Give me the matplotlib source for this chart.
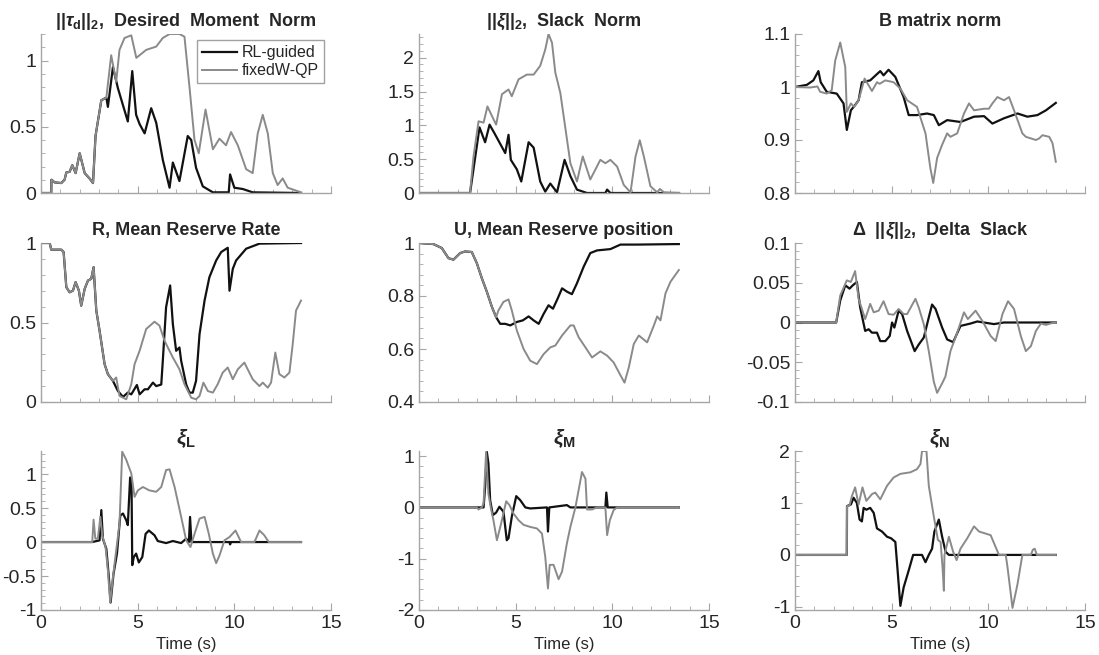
import numpy as np
import matplotlib
matplotlib.use("Agg")
import matplotlib.pyplot as plt
from matplotlib.ticker import AutoMinorLocator, FormatStrFormatter

# ---- data (time s, value) ----
TAU_RL = [(0, 0), (0.53, 0), (0.54, 0.1), (0.71, 0.08), (1.05, 0.075), (1.22, 0.1), (1.31, 0.155),
          (1.48, 0.16), (1.62, 0.21), (1.79, 0.15), (2.0, 0.3), (2.26, 0.15), (2.51, 0.11), (2.69, 0.075),
          (2.82, 0.43), (3.12, 0.7), (3.38, 0.72), (3.46, 0.65), (3.72, 0.95), (3.98, 0.79), (4.49, 0.54),
          (4.72, 0.92), (4.92, 0.59), (5.1, 0.52), (5.36, 0.45), (5.7, 0.64), (5.96, 0.53), (6.3, 0.25),
          (6.65, 0.04), (6.82, 0.23), (7.16, 0.09), (7.59, 0.43), (7.77, 0.4), (8.02, 0.19), (8.37, 0.05),
          (8.89, 0.005), (9.71, 0.005), (9.78, 0.14), (10.0, 0.04), (10.44, 0.03), (10.95, 0.005), (13.45, 0)]
TAU_QP = [(0, 0), (0.53, 0), (0.54, 0.1), (0.71, 0.08), (1.05, 0.075), (1.22, 0.1), (1.31, 0.155),
          (1.48, 0.16), (1.62, 0.21), (1.79, 0.15), (2.0, 0.3), (2.26, 0.15), (2.51, 0.11), (2.69, 0.075),
          (2.82, 0.43), (3.12, 0.7), (3.38, 0.72), (3.63, 1.04), (3.89, 0.84), (4.06, 1.08), (4.32, 1.17),
          (4.67, 1.19), (4.93, 1.02), (5.44, 1.08), (5.96, 1.105), (6.3, 1.17), (6.65, 1.2), (7.16, 1.2),
          (7.42, 1.18), (7.68, 0.8), (7.94, 0.4), (8.16, 0.3), (8.51, 0.63), (8.89, 0.33), (9.23, 0.41),
          (9.57, 0.36), (9.83, 0.46), (10.18, 0.36), (10.61, 0.18), (10.95, 0.15), (11.21, 0.45),
          (11.47, 0.59), (11.73, 0.45), (11.99, 0.15), (12.24, 0.06), (12.5, 0.11), (12.76, 0.04), (13.45, 0.005)]

SLACK_RL = [(0, 0), (2.64, 0), (3.13, 0.97), (3.42, 0.75), (3.65, 1.01), (3.89, 0.89), (4.46, 0.59),
            (4.63, 0.86), (4.75, 0.49), (5.06, 0.35), (5.29, 0.17), (5.67, 0.75), (5.93, 0.67), (6.27, 0.17),
            (6.53, 0.02), (6.79, 0.14), (7.14, 0.01), (7.53, 0.49), (7.83, 0.25), (8.17, 0.05), (8.69, 0),
            (9.64, 0), (9.73, 0.05), (9.9, 0), (13.45, 0)]
SLACK_QP = [(0, 0), (2.64, 0), (2.82, 0.54), (3.08, 1.06), (3.34, 1.04), (3.54, 1.28), (3.77, 1.14),
            (3.99, 1.01), (4.29, 1.46), (4.63, 1.53), (4.8, 1.43), (5.15, 1.68), (5.58, 1.75), (5.93, 1.75),
            (6.27, 1.88), (6.53, 2.12), (6.7, 2.35), (6.88, 2.22), (7.05, 1.78), (7.31, 1.48), (7.48, 1.14),
            (7.83, 0.44), (8.17, 0.17), (8.47, 0.54), (8.86, 0.2), (9.38, 0.49), (9.64, 0.44), (9.9, 0.49),
            (10.25, 0.39), (10.59, 0.12), (10.94, 0.01), (11.2, 0.54), (11.42, 0.78), (11.63, 0.54),
            (11.97, 0.1), (12.32, 0.01), (12.46, 0.06), (12.67, 0.01), (13.45, 0)]

BNORM_RL = [(0, 1.0), (0.61, 1.004), (0.95, 1.0125), (1.21, 1.03), (1.33, 1.009), (1.64, 0.991),
            (2.16, 0.9875), (2.51, 0.969), (2.68, 0.919), (2.89, 0.956), (3.11, 0.966), (3.29, 0.975),
            (3.46, 1.009), (3.89, 1.0125), (4.41, 1.03), (4.58, 1.022), (4.84, 1.0325), (5.19, 1.019),
            (5.62, 0.981), (5.88, 0.947), (6.31, 0.947), (6.83, 0.95), (7.18, 0.947), (7.44, 0.928),
            (7.87, 0.9375), (8.56, 0.934), (9.26, 0.944), (9.78, 0.945), (10.21, 0.931), (10.81, 0.941),
            (11.51, 0.95), (12.02, 0.944), (12.54, 0.947), (12.98, 0.956), (13.49, 0.97)]
BNORM_QP = [(0, 1.0), (0.78, 0.999), (1.16, 1.001), (1.3, 0.991), (1.64, 0.9875), (1.9, 0.994),
            (2.08, 1.05), (2.34, 1.084), (2.6, 1.0375), (2.68, 0.953), (2.89, 0.969), (3.06, 0.9625),
            (3.29, 0.975), (3.6, 1.016), (3.98, 0.9925), (4.24, 1.009), (4.38, 1.006), (4.67, 1.0125),
            (5.1, 1.009), (5.45, 0.997), (5.8, 0.975), (6.31, 0.9625), (6.75, 0.9125), (7.0, 0.847),
            (7.15, 0.819), (7.35, 0.866), (7.61, 0.891), (7.87, 0.9125), (8.04, 0.906), (8.39, 0.9125),
            (8.74, 0.95), (9.0, 0.969), (9.26, 0.956), (9.78, 0.959), (10.03, 0.959), (10.21, 0.969),
            (10.47, 0.981), (10.81, 0.975), (11.07, 0.981), (11.33, 0.956), (11.76, 0.9125), (11.94, 0.906),
            (12.46, 0.9), (12.63, 0.903), (12.8, 0.909), (13.15, 0.906), (13.32, 0.894), (13.49, 0.859)]

R_RL = [(0, 1.0), (0.45, 1.0), (0.53, 0.958), (1.05, 0.958), (1.17, 0.943), (1.31, 0.722), (1.48, 0.69),
        (1.65, 0.7), (1.79, 0.754), (1.96, 0.7), (2.08, 0.606), (2.26, 0.712), (2.43, 0.764), (2.6, 0.775),
        (2.72, 0.848), (2.86, 0.575), (3.03, 0.448), (3.29, 0.238), (3.46, 0.175), (3.72, 0.133),
        (3.98, 0.069), (4.24, 0.032), (4.49, 0.059), (4.67, 0.048), (4.96, 0.107), (5.1, 0.048),
        (5.36, 0.08), (5.53, 0.08), (5.79, 0.122), (5.96, 0.1), (6.22, 0.11), (6.3, 0.259), (6.47, 0.596),
        (6.68, 0.733), (6.82, 0.49), (6.99, 0.322), (7.16, 0.343), (7.25, 0.259), (7.51, 0.11),
        (7.68, 0.059), (7.85, 0.059), (8.02, 0.133), (8.2, 0.427), (8.46, 0.638), (8.71, 0.785),
        (9.06, 0.89), (9.32, 0.943), (9.66, 0.97), (9.75, 0.7), (9.92, 0.837), (10.09, 0.89),
        (10.61, 0.964), (11.3, 0.996), (13.45, 1.0)]
R_QP = [(0, 1.0), (0.45, 1.0), (0.53, 0.958), (1.05, 0.958), (1.17, 0.943), (1.31, 0.722), (1.48, 0.69),
        (1.65, 0.7), (1.79, 0.754), (1.96, 0.7), (2.08, 0.606), (2.26, 0.712), (2.43, 0.764), (2.6, 0.775),
        (2.72, 0.848), (2.86, 0.575), (3.03, 0.448), (3.29, 0.238), (3.46, 0.175), (3.72, 0.133),
        (3.89, 0.154), (4.06, 0.038), (4.41, 0.017), (4.67, 0.112), (4.84, 0.238), (5.1, 0.322),
        (5.44, 0.459), (5.87, 0.505), (6.13, 0.48), (6.39, 0.385), (6.56, 0.343), (6.82, 0.28),
        (7.16, 0.206), (7.42, 0.112), (7.77, 0.027), (8.02, 0.017), (8.2, 0.038), (8.4, 0.122),
        (8.63, 0.069), (8.89, 0.059), (9.14, 0.112), (9.4, 0.185), (9.66, 0.217), (9.92, 0.143),
        (10.18, 0.206), (10.52, 0.248), (10.69, 0.206), (10.95, 0.143), (11.3, 0.1), (11.47, 0.122),
        (11.73, 0.09), (11.9, 0.122), (12.12, 0.311), (12.33, 0.175), (12.59, 0.154), (12.85, 0.185),
        (13.02, 0.364), (13.19, 0.575), (13.45, 0.638)]

U_SHARED = [(0, 1.0), (0.74, 0.996), (1.18, 0.981), (1.52, 0.943), (1.78, 0.937), (2.13, 0.962),
            (2.38, 0.968), (2.73, 0.966), (2.99, 0.924), (3.25, 0.867), (3.51, 0.816), (3.77, 0.759),
            (3.99, 0.72)]
U_RL = U_SHARED + [(4.2, 0.695), (4.46, 0.695), (4.72, 0.689), (5.06, 0.702), (5.37, 0.708),
                   (5.67, 0.723), (5.93, 0.708), (6.19, 0.695), (6.45, 0.733), (6.7, 0.765), (6.93, 0.752),
                   (7.17, 0.79), (7.4, 0.829), (7.66, 0.816), (7.91, 0.807), (8.17, 0.848), (8.52, 0.911),
                   (8.86, 0.962), (9.21, 0.972), (9.9, 0.977), (10.42, 0.994), (11.28, 0.994), (13.44, 0.996)]
U_QP = U_SHARED + [(4.11, 0.746), (4.37, 0.778), (4.63, 0.787), (4.8, 0.746), (5.06, 0.67), (5.41, 0.6),
                   (5.75, 0.556), (6.1, 0.543), (6.45, 0.581), (6.79, 0.606), (7.05, 0.613), (7.4, 0.651),
                   (7.83, 0.689), (8.0, 0.689), (8.26, 0.644), (8.61, 0.606), (8.95, 0.568), (9.38, 0.591),
                   (9.73, 0.575), (10.07, 0.549), (10.39, 0.505), (10.63, 0.473), (10.85, 0.53),
                   (11.11, 0.619), (11.37, 0.651), (11.8, 0.625), (12.15, 0.689), (12.32, 0.723),
                   (12.49, 0.708), (12.75, 0.81), (13.01, 0.854), (13.44, 0.898)]

DSLACK_RL = [(0, 0), (2.13, 0), (2.34, 0.0277), (2.6, 0.0468), (2.82, 0.0426), (2.99, 0.0468),
             (3.2, 0.051), (3.37, 0.019), (3.63, -0.0106), (3.81, -0.0085), (3.98, -0.0128),
             (4.24, -0.0128), (4.41, -0.0234), (4.67, -0.0234), (4.9, -0.017), (5.02, 0), (5.14, -0.0064),
             (5.36, 0.0149), (5.54, 0.0106), (5.8, -0.0106), (6.19, -0.036), (6.4, -0.0277), (6.66, -0.019),
             (6.92, 0.0064), (7.09, 0.0226), (7.27, 0.017), (7.61, -0.0064), (7.87, -0.0213),
             (8.18, -0.0247), (8.56, -0.0043), (9.08, -0.0013), (9.43, 0.0013), (10.29, -0.002),
             (10.81, 0), (13.49, 0)]
DSLACK_QP = [(0, 0), (2.13, 0), (2.34, 0.034), (2.68, 0.053), (2.89, 0.051), (3.11, 0.0647),
             (3.29, 0.0298), (3.63, 0.0043), (3.89, 0.0234), (4.07, 0.0128), (4.33, 0.0149),
             (4.58, 0.0268), (4.84, 0.0106), (5.1, 0.0098), (5.36, 0.017), (5.62, 0.0106), (5.8, 0.0106),
             (6.23, 0.0298), (6.4, 0.019), (6.66, -0.002), (6.92, -0.036), (7.18, -0.0745), (7.35, -0.0885),
             (7.61, -0.0766), (7.78, -0.068), (8.04, -0.036), (8.39, -0.0128), (8.74, 0.0128),
             (8.94, 0.0043), (9.34, 0.0149), (9.69, 0.002), (10.12, -0.017), (10.38, -0.0234),
             (10.73, 0.0106), (11.02, 0.0268), (11.33, 0.017), (11.68, -0.017), (11.94, -0.036),
             (12.2, -0.0298), (12.46, -0.0106), (12.72, -0.0013), (12.98, -0.003), (13.24, -0.001),
             (13.49, 0)]

XIL_RL = [(0, 0), (2.65, 0), (3.03, 0.025), (3.12, 0.47), (3.2, 0.05), (3.38, -0.1), (3.51, -0.52),
          (3.6, -0.89), (3.75, -0.47), (3.93, -0.17), (4.1, 0.39), (4.24, 0.42), (4.41, 0.32), (4.49, 0.25),
          (4.61, 0.95), (4.68, 0.94), (4.72, -0.34), (4.8, -0.22), (4.92, -0.17), (5.06, -0.3),
          (5.24, -0.22), (5.41, 0.12), (5.58, 0.17), (5.87, 0.1), (6.04, 0.015), (6.47, -0.015),
          (6.82, 0.015), (7.25, -0.015), (7.51, 0.05), (7.65, 0), (7.71, 0.37), (7.78, 0), (9.75, 0),
          (9.78, -0.035), (9.83, 0), (13.45, 0)]
XIL_QP = [(0, 0), (2.65, 0), (2.72, 0.33), (2.81, 0.05), (2.94, 0.05), (3.07, 0.37), (3.17, 0.1),
          (3.34, -0.074), (3.46, -0.42), (3.58, -0.89), (3.72, -0.52), (3.89, -0.12), (4.06, 0.27),
          (4.2, 1.33), (4.41, 1.21), (4.67, 1.01), (4.84, 0.665), (5.01, 0.76), (5.27, 0.81), (5.61, 0.76),
          (5.96, 0.74), (6.22, 0.81), (6.47, 1.06), (6.65, 1.07), (6.91, 0.81), (7.25, 0.37), (7.51, 0.025),
          (7.73, -0.074), (7.94, 0.12), (8.2, 0.345), (8.46, 0.37), (8.68, 0.12), (8.89, -0.17),
          (9.06, -0.31), (9.23, -0.2), (9.49, 0.025), (9.75, 0.074), (10.06, 0.17), (10.35, 0),
          (11.04, 0), (11.3, 0.17), (11.55, 0.1), (11.78, 0), (13.45, 0)]

XIM_RL = [(0, 0), (3.34, 0), (3.42, 0.4), (3.51, 1.08), (3.59, 0.86), (3.68, 0.14), (3.82, -0.15),
          (3.99, -0.1), (4.16, 0.013), (4.37, -0.085), (4.54, -0.64), (4.63, -0.6), (4.8, -0.18),
          (5.03, 0.22), (5.24, 0.14), (5.5, 0), (5.75, -0.02), (6.62, 0), (6.67, -0.47), (6.74, 0),
          (7.65, 0.045), (7.83, 0), (9.64, 0), (9.69, 0.29), (9.76, 0), (13.44, 0)]
XIM_QP = [(0, 0), (2.99, 0), (3.08, -0.04), (3.25, 0), (3.34, 0.08), (3.47, 1.08), (3.59, 0.27),
          (3.72, -0.02), (3.85, -0.25), (4.03, -0.64), (4.25, -0.31), (4.51, 0.12), (4.68, 0.045),
          (4.89, -0.12), (5.15, -0.25), (5.41, -0.34), (5.75, -0.38), (6.1, -0.41), (6.36, -0.51),
          (6.53, -0.96), (6.67, -1.58), (6.76, -1.12), (6.96, -1.12), (7.22, -1.4), (7.4, -1.25),
          (7.65, -0.7), (7.83, -0.38), (8.09, 0), (8.43, 0.69), (8.61, 0.56), (8.69, -0.04), (8.95, -0.04),
          (9.21, 0), (9.64, 0), (9.73, -0.54), (9.87, -0.25), (10.07, -0.05), (10.25, 0), (13.44, 0)]

XIN_RL = [(0, 0), (2.68, 0), (2.69, 0.94), (2.89, 0.97), (3.03, 1.1), (3.2, 1.0), (3.34, 0.68),
          (3.46, 0.645), (3.55, 0.905), (3.69, 0.87), (3.89, 0.905), (4.07, 0.81), (4.24, 0.51),
          (4.5, 0.45), (4.76, 0.35), (4.97, 0.32), (5.19, 0.25), (5.28, -0.17), (5.45, -0.98),
          (5.62, -0.625), (5.88, -0.3), (6.11, 0), (6.57, 0), (6.75, -0.14), (6.92, 0), (7.09, 0.12),
          (7.21, 0.45), (7.44, 0.68), (7.61, 0.35), (7.79, 0.06), (7.96, 0), (13.49, 0)]
XIN_QP = [(0, 0), (2.68, 0), (2.69, 0.94), (2.82, 0.95), (2.94, 1.13), (3.11, 1.3), (3.29, 0.97),
          (3.49, 1.3), (3.69, 1.04), (3.98, 1.17), (4.15, 1.2), (4.41, 1.07), (4.76, 1.33), (5.1, 1.49),
          (5.45, 1.56), (5.97, 1.59), (6.31, 1.65), (6.49, 1.75), (6.57, 2.0), (6.8, 2.0), (6.92, 1.33),
          (7.18, 0.74), (7.39, 0.29), (7.53, 0.25), (7.63, -0.23), (7.7, -0.69), (7.73, 0), (7.96, 0.35),
          (8.18, 0.06), (8.36, -0.1), (8.56, 0.12), (8.91, 0.32), (9.26, 0.55), (9.52, 0.45), (9.78, 0.42),
          (10.12, 0.38), (10.55, 0), (10.9, 0), (10.99, -0.23), (11.25, -1.02), (11.51, -0.56),
          (11.76, 0), (12.2, 0), (12.3, 0.1), (12.4, 0.12), (12.51, 0), (13.49, 0)]

TITLES = [r"||$\tau_\mathrm{d}$||$_\mathrm{2}$,  Desired  Moment  Norm",
          r"||$\xi$||$_\mathrm{2}$,  Slack  Norm",
          "B matrix norm",
          "R, Mean Reserve Rate",
          "U, Mean Reserve position",
          r"$\Delta$  ||$\xi$||$_\mathrm{2}$,  Delta  Slack",
          r"$\xi_\mathrm{L}$", r"$\xi_\mathrm{M}$", r"$\xi_\mathrm{N}$"]
SERIES = [(TAU_RL, TAU_QP), (SLACK_RL, SLACK_QP), (BNORM_RL, BNORM_QP),
          (R_RL, R_QP), (U_RL, U_QP), (DSLACK_RL, DSLACK_QP),
          (XIL_RL, XIL_QP), (XIM_RL, XIM_QP), (XIN_RL, XIN_QP)]
YLIMS = [(0, 1.2), (0, 2.35), (0.8, 1.1), (0, 1.0), (0.4, 1.0), (-0.1, 0.1),
         (-1, 1.34), (-2, 1.1), (-1.06, 2)]
YTICKS = [[0, 0.5, 1], [0, 0.5, 1, 1.5, 2], [0.8, 0.9, 1.0, 1.1], [0, 0.5, 1], [0.4, 0.6, 0.8, 1],
          [-0.1, -0.05, 0, 0.05, 0.1], [-1, -0.5, 0, 0.5, 1], [-2, -1, 0, 1], [-1, 0, 1, 2]]
LABELS = ["RL-guided", "fixedW-QP"]

plt.rcParams["font.family"] = ["Liberation Sans", "DejaVu Sans"]
plt.rcParams["mathtext.fontset"] = "custom"
plt.rcParams["mathtext.rm"] = "Liberation Sans:bold"
plt.rcParams["mathtext.it"] = "Liberation Sans:italic:bold"
plt.rcParams["mathtext.bf"] = "Liberation Sans:bold"
plt.rcParams["axes.unicode_minus"] = False

W, H = 1099, 655
fig = plt.figure(figsize=(W / 100, H / 100), dpi=100)

lefts = [41, 419, 795]
bottoms = [193, 402, 610]
aw, ah = 290, 159
spine_c = "#a6a6a6"
text_c = "#262626"

for i in range(9):
    r, c = divmod(i, 3)
    ax = fig.add_axes([lefts[c] / W, 1 - bottoms[r] / H, aw / W, ah / H])
    rl, qp = SERIES[i]
    rl = np.array(rl)
    qp = np.array(qp)
    ax.plot(rl[:, 0], rl[:, 1], color="#111111", lw=1.6, label=LABELS[0])
    ax.plot(qp[:, 0], qp[:, 1], color="#8a8a8a", lw=1.4, label=LABELS[1])
    ax.set_xlim(0, 15)
    ax.set_ylim(*YLIMS[i])
    ax.set_xticks([0, 5, 10, 15])
    ax.set_yticks(YTICKS[i])
    ax.yaxis.set_major_formatter(FormatStrFormatter("%g"))
    ax.xaxis.set_minor_locator(AutoMinorLocator(5))
    ax.yaxis.set_minor_locator(AutoMinorLocator(5))
    for s in ["top", "right"]:
        ax.spines[s].set_visible(False)
    for s in ["left", "bottom"]:
        ax.spines[s].set_color(spine_c)
        ax.spines[s].set_linewidth(1.0)
    ax.tick_params(which="both", direction="in", color=spine_c, labelcolor=text_c, labelsize=14)
    ax.tick_params(which="major", length=5)
    ax.tick_params(which="minor", length=3)
    if r < 2:
        ax.tick_params(axis="x", labelbottom=False)
        ax.set_title(TITLES[i], fontsize=13, fontweight="bold", color=text_c, pad=6)
    else:
        ax.set_xlabel("Time (s)", fontsize=12, color=text_c, labelpad=4)
        ax.set_title(TITLES[i], fontsize=15, fontweight="bold", color=text_c, pad=5)
    if i == 0:
        leg = ax.legend(loc="upper right", bbox_to_anchor=(0.975, 0.96), fontsize=11.5,
                        fancybox=False, handlelength=2.2, borderpad=0.3, labelspacing=0.2,
                        handletextpad=0.3, borderaxespad=0)
        leg.get_frame().set_edgecolor("#8a8a8a")
        leg.get_frame().set_linewidth(1.0)
        for t in leg.get_texts():
            t.set_color(text_c)

fig.savefig("out.png", dpi=100)
